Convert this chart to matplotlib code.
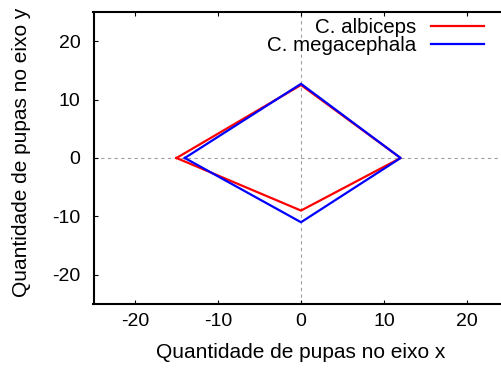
import matplotlib
matplotlib.use("Agg")
import matplotlib.pyplot as plt

plt.rcParams["font.family"] = ["Liberation Sans", "DejaVu Sans"]
plt.rcParams["axes.unicode_minus"] = False

# polygon vertices (closed)
albiceps_x = [-15, 0, 12, 0, -15]
albiceps_y = [0, 12.5, 0, -9, 0]
megacephala_x = [-14, 0, 12, 0, -14]
megacephala_y = [0, 12.7, 0, -11, 0]

ticks = [-20, -10, 0, 10, 20]

fig = plt.figure(figsize=(5.01, 3.69), dpi=100)
# right border of the plot lies just outside the image, as in the original
ax = fig.add_axes([93.5 / 501, 1 - 304 / 369, 415 / 501, 292 / 369])

ax.axhline(0, color="#a0a0a0", lw=0.8, ls=(0, (3, 3)), zorder=1)
ax.axvline(0, color="#a0a0a0", lw=0.8, ls=(0, (3, 3)), zorder=1)

ax.plot(albiceps_x, albiceps_y, color="#ff0000", lw=1.6, label="C. albiceps", zorder=3)
ax.plot(megacephala_x, megacephala_y, color="#0000ff", lw=1.6, label="C. megacephala", zorder=4)

ax.set_xlim(-25, 25)
ax.set_ylim(-25, 25)
ax.set_xticks(ticks)
ax.set_yticks(ticks)
ax.tick_params(direction="in", length=3, width=0.8, top=True, right=True,
               labelsize=14)
ax.tick_params(axis="x", pad=6.5)
ax.tick_params(axis="y", pad=9.5)
for s in ax.spines.values():
    s.set_linewidth(1.5)
ax.spines["right"].set_visible(False)

ax.set_xlabel("Quantidade de pupas no eixo x", fontsize=15, va="center")
ax.set_ylabel("Quantidade de pupas no eixo y", fontsize=15, va="center")
ax.xaxis.set_label_coords(0.5, (304 - 353) / 292)
ax.yaxis.set_label_coords((22 - 93.5) / 415, 0.52)

ax.legend(loc="upper right", bbox_to_anchor=(484 / 501, 1 - 18 / 369),
          bbox_transform=fig.transFigure, markerfirst=False, frameon=False,
          fontsize=14.8, handlelength=2.6, handletextpad=0.7, labelspacing=-0.03,
          borderpad=0, borderaxespad=0)

fig.savefig("out.png", dpi=100)
